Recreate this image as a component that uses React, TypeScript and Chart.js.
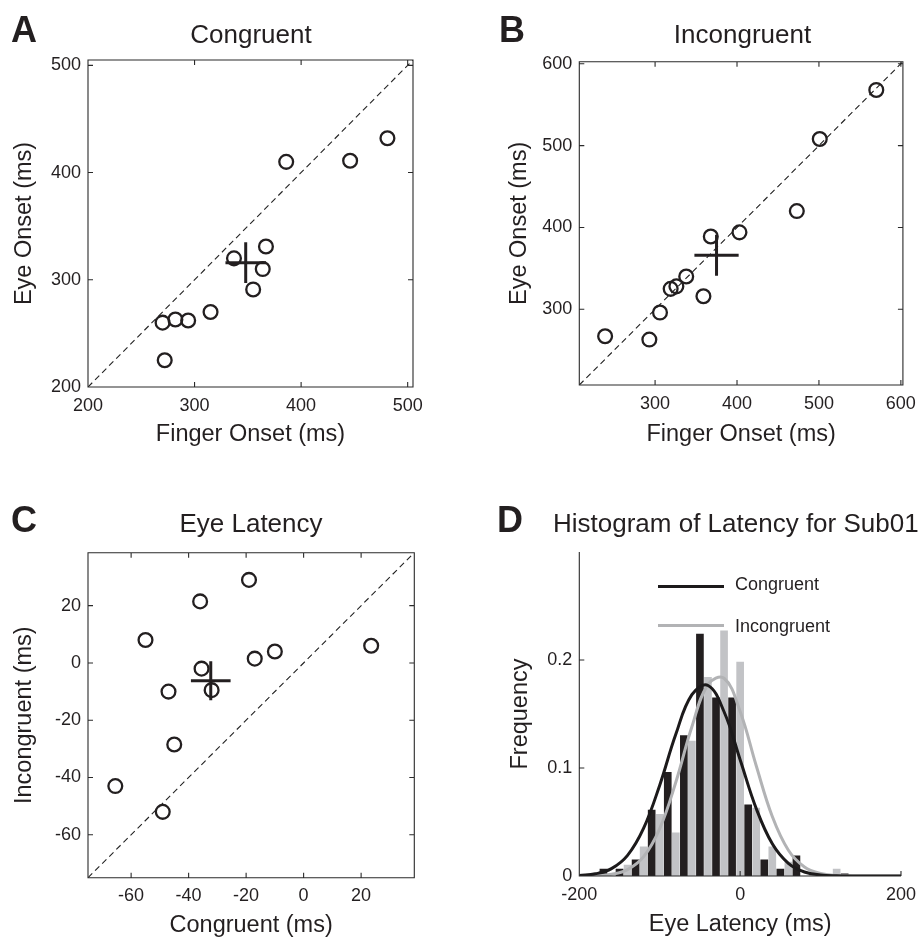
import React, { useEffect, useRef } from 'react';
import { Chart, registerables } from 'chart.js';

Chart.register(...registerables);

const FONT = '"Liberation Sans", Arimo, Arial, Helvetica, sans-serif';
const INK = '#231f20';
const GRAY_BAR = '#c2c3c6';
const GRAY_LINE = '#b2b3b5';

// ---------- Panel A: Congruent ----------
const aFingerOnset = [386, 446, 481, 367, 337, 364, 355, 315, 294, 282, 270, 272];
const aEyeOnset = [410, 411, 432, 331, 320, 310, 291, 270, 262, 263, 260, 225];
const aMean = [348, 316];
const aError = [19, 19];
const aTicks = [200, 300, 400, 500];
const aRange = [200, 505];

// ---------- Panel B: Incongruent ----------
const bFingerOnset = [570, 501, 473, 403, 368, 338, 326, 319, 359, 306, 293, 239];
const bEyeOnset = [568, 508, 420, 394, 389, 340, 328, 325, 316, 296, 263, 267];
const bMean = [375, 366];
const bError = [27, 25];
const bTicks = [300, 400, 500, 600];
const bRange = [207.5, 602.5];

// ---------- Panel C: Eye Latency ----------
const cCongruent = [-19, -36, -55, 23.5, -10, -17, -35.5, -47, -32, -45, -65.5, -49];
const cIncongruent = [29, 21.5, 8, 6, 4, 1.5, -2, -10, -9.5, -28.5, -43, -52];
const cMean = [-32.3, -6.2];
const cError = [6.9, 6.8];
const cTicks = [-60, -40, -20, 0, 20];
const cRange = [-75, 38.5];

// ---------- Panel D: Histogram of Latency for Sub01 ----------
const congruentBins = [-190, -170, -150, -130, -110, -90, -70, -50, -30, -10, 10, 30, 50, 70, 90, 110, 130];
const congruentFrequency = [0.0015, 0.0065, 0.0065, 0.015, 0.061, 0.096, 0.13, 0.224, 0.165, 0.165, 0.066, 0.015, 0.0065, 0.0186, 0, 0, 0.002];
const incongruentBins = [-180, -160, -140, -120, -100, -80, -60, -40, -20, 0, 20, 40, 60, 80, 100, 120, 140];
const incongruentFrequency = [0, 0, 0.01, 0.027, 0.057, 0.04, 0.125, 0.184, 0.227, 0.198, 0.063, 0.027, 0.013, 0, 0, 0.0065, 0];
const fitLatency = [-200, -180, -160, -140, -120, -100, -80, -60, -40, -20, 0, 20, 40, 60, 80, 100, 120, 140, 160, 180, 200];
const congruentFit = [0.0005, 0.002, 0.0068, 0.0191, 0.0443, 0.0841, 0.1312, 0.1679, 0.1764, 0.1521, 0.1077, 0.0625, 0.0298, 0.0117, 0.0037, 0.001, 0.0002, 0, 0, 0, 0];
const incongruentFit = [0.0001, 0.0003, 0.0016, 0.0059, 0.0179, 0.0439, 0.0868, 0.1382, 0.1772, 0.1831, 0.1523, 0.1021, 0.0551, 0.0239, 0.0084, 0.0024, 0.0005, 0.0001, 0, 0, 0];
const dXTicks = [-200, 0, 200];
const dYTicks = [0, 0.1, 0.2];
const dXRange = [-200, 200];
const dYRange = [0, 0.3];

type Rect = { left: number; top: number; width: number; height: number };
type Area = { l: number; t: number; r: number; b: number };

function frame(c: Rect, a: Area) {
  return {
    padding: { left: 0, top: a.t - c.top, right: c.left + c.width - a.r, bottom: 0 },
    yWidth: a.l - c.left,
    xHeight: c.top + c.height - a.b,
  };
}

function makeAxisPlugin(box: boolean) {
  return {
    id: 'matlabAxes',
    afterDatasetsDraw(chart: any) {
      const { ctx, chartArea } = chart;
      const { left, top, right, bottom } = chartArea;
      const xs = chart.scales.x;
      const ys = chart.scales.y;
      const L = 5;
      ctx.save();
      ctx.strokeStyle = '#2a2a2a';
      ctx.lineWidth = 1.1;
      ctx.beginPath();
      if (box) {
        ctx.rect(left, top, right - left, bottom - top);
      } else {
        ctx.moveTo(left, top);
        ctx.lineTo(left, bottom);
        ctx.lineTo(right, bottom);
      }
      xs.ticks.forEach((t: any) => {
        const px = xs.getPixelForValue(t.value);
        ctx.moveTo(px, bottom);
        ctx.lineTo(px, bottom - L);
        if (box) {
          ctx.moveTo(px, top);
          ctx.lineTo(px, top + L);
        }
      });
      ys.ticks.forEach((t: any) => {
        const py = ys.getPixelForValue(t.value);
        ctx.moveTo(left, py);
        ctx.lineTo(left + L, py);
        if (box) {
          ctx.moveTo(right, py);
          ctx.lineTo(right - L, py);
        }
      });
      ctx.stroke();
      ctx.restore();
    },
  };
}

function axis(kind: 'x' | 'y', o: { min: number; max: number; ticks: number[]; title: string; size: number; titlePad: number }) {
  return {
    type: 'linear',
    min: o.min,
    max: o.max,
    offset: false,
    afterBuildTicks: (s: any) => {
      s.ticks = o.ticks.map((v) => ({ value: v }));
    },
    afterFit: (s: any) => {
      if (kind === 'x') s.height = o.size;
      else s.width = o.size;
    },
    grid: { display: false, drawTicks: false },
    border: { display: false },
    ticks: {
      color: INK,
      font: { family: FONT, size: 18 },
      padding: kind === 'x' ? 8 : 7,
      maxRotation: 0,
      minRotation: 0,
      autoSkip: false,
      callback: (v: any) => String(v),
    },
    title: {
      display: true,
      text: o.title,
      color: INK,
      font: { family: FONT, size: 23.5, lineHeight: 1 },
      padding: kind === 'x' ? { top: 0, bottom: o.titlePad } : { top: o.titlePad, bottom: 0 },
    },
  };
}

type ScatterSpec = {
  canvas: Rect;
  area: Area;
  xs: number[];
  ys: number[];
  mean: number[];
  err: number[];
  ticks: number[];
  range: number[];
  xTitle: string;
  yTitle: string;
  xTitlePad: number;
  yTitlePad: number;
};

function scatterConfig(s: ScatterSpec) {
  const f = frame(s.canvas, s.area);
  const pts = s.xs.map((x, i) => ({ x, y: s.ys[i] }));
  const [mx, my] = s.mean;
  const [ex, ey] = s.err;
  const crossStyle = { showLine: true, borderColor: INK, borderWidth: 3, pointRadius: 0, borderCapStyle: 'butt' };
  return {
    type: 'scatter',
    data: {
      datasets: [
        {
          data: pts,
          pointStyle: 'circle',
          pointRadius: 6.9,
          borderWidth: 2.3,
          pointBorderWidth: 2.3,
          borderColor: INK,
          pointBorderColor: INK,
          backgroundColor: 'rgba(0,0,0,0)',
          pointBackgroundColor: 'rgba(0,0,0,0)',
          showLine: false,
        },
        { data: [{ x: mx - ex, y: my }, { x: mx + ex, y: my }], ...crossStyle },
        { data: [{ x: mx, y: my - ey }, { x: mx, y: my + ey }], ...crossStyle },
        {
          data: [{ x: s.range[0], y: s.range[0] }, { x: s.range[1], y: s.range[1] }],
          showLine: true,
          borderColor: '#222',
          borderWidth: 1.1,
          borderDash: [6, 4],
          pointRadius: 0,
        },
      ],
    },
    options: {
      animation: false,
      responsive: false,
      devicePixelRatio: 1,
      events: [],
      layout: { padding: f.padding },
      plugins: { legend: { display: false }, tooltip: { enabled: false } },
      scales: {
        x: axis('x', { min: s.range[0], max: s.range[1], ticks: s.ticks, title: s.xTitle, size: f.xHeight, titlePad: s.xTitlePad }),
        y: axis('y', { min: s.range[0], max: s.range[1], ticks: s.ticks, title: s.yTitle, size: f.yWidth, titlePad: s.yTitlePad }),
      },
    },
    plugins: [makeAxisPlugin(true)],
  };
}

const dCanvas: Rect = { left: 460, top: 530, width: 464, height: 409 };
const dArea: Area = { l: 579.3, t: 552, r: 905.7, b: 876 };

function histogramConfig() {
  const f = frame(dCanvas, dArea);
  return {
    type: 'bar',
    data: {
      datasets: [
        {
          type: 'line',
          data: fitLatency.map((x, i) => ({ x, y: congruentFit[i] })),
          borderColor: '#1c1a1b',
          borderWidth: 3,
          pointRadius: 0,
          tension: 0.4,
          order: 0,
        },
        {
          type: 'line',
          data: fitLatency.map((x, i) => ({ x, y: incongruentFit[i] })),
          borderColor: GRAY_LINE,
          borderWidth: 3,
          pointRadius: 0,
          tension: 0.4,
          order: 1,
        },
        {
          type: 'bar',
          data: congruentBins.map((x, i) => ({ x, y: congruentFrequency[i] })),
          backgroundColor: INK,
          borderWidth: 0,
          barThickness: 7,
          grouped: false,
          order: 2,
        },
        {
          type: 'bar',
          data: incongruentBins.map((x, i) => ({ x, y: incongruentFrequency[i] })),
          backgroundColor: GRAY_BAR,
          borderWidth: 0,
          barThickness: 7,
          grouped: false,
          order: 3,
        },
      ],
    },
    options: {
      animation: false,
      responsive: false,
      devicePixelRatio: 1,
      events: [],
      layout: { padding: f.padding },
      plugins: { legend: { display: false }, tooltip: { enabled: false } },
      scales: {
        x: axis('x', { min: dXRange[0], max: dXRange[1], ticks: dXTicks, title: 'Eye Latency (ms)', size: f.xHeight, titlePad: 2.25 }),
        y: axis('y', { min: dYRange[0], max: dYRange[1], ticks: dYTicks, title: 'Frequency', size: f.yWidth, titlePad: 49.25 }),
      },
    },
    plugins: [makeAxisPlugin(false)],
  };
}

function ChartCanvas({ rect, make }: { rect: Rect; make: () => any }) {
  const ref = useRef<HTMLCanvasElement>(null);
  useEffect(() => {
    const chart = new Chart(ref.current as HTMLCanvasElement, make());
    return () => chart.destroy();
  }, []);
  return (
    <canvas
      ref={ref}
      width={rect.width}
      height={rect.height}
      style={{ position: 'absolute', left: rect.left, top: rect.top, width: rect.width, height: rect.height }}
    />
  );
}

function Text({ left, top, size, bold, children, center, width }: any) {
  return (
    <div
      style={{
        position: 'absolute',
        left: center !== undefined ? center - 200 : left,
        width: center !== undefined ? 400 : width,
        top,
        fontFamily: FONT,
        fontSize: size,
        lineHeight: size + 'px',
        fontWeight: bold ? 700 : 400,
        color: INK,
        whiteSpace: 'nowrap',
        textAlign: center !== undefined ? 'center' : 'left',
      }}
    >
      {children}
    </div>
  );
}

const specA: ScatterSpec = {
  canvas: { left: 0, top: 40, width: 460, height: 410 },
  area: { l: 88, t: 60, r: 413, b: 387 },
  xs: aFingerOnset, ys: aEyeOnset, mean: aMean, err: aError, ticks: aTicks, range: aRange,
  xTitle: 'Finger Onset (ms)', yTitle: 'Eye Onset (ms)', xTitlePad: 3.25, yTitlePad: 13,
};
const specB: ScatterSpec = {
  canvas: { left: 460, top: 40, width: 464, height: 410 },
  area: { l: 579.3, t: 61.7, r: 905.7, b: 385 },
  xs: bFingerOnset, ys: bEyeOnset, mean: bMean, err: bError, ticks: bTicks, range: bRange,
  xTitle: 'Finger Onset (ms)', yTitle: 'Eye Onset (ms)', xTitlePad: 3.25, yTitlePad: 48.25,
};
const specC: ScatterSpec = {
  canvas: { left: 0, top: 530, width: 460, height: 409 },
  area: { l: 88, t: 552.7, r: 414.3, b: 877.7 },
  xs: cCongruent, ys: cIncongruent, mean: cMean, err: cError, ticks: cTicks, range: cRange,
  xTitle: 'Congruent (ms)', yTitle: 'Incongruent (ms)', xTitlePad: 1.25, yTitlePad: 13,
};

export default function App() {
  return (
    <div style={{ position: 'absolute', left: 0, top: 0, width: 924, height: 939, overflow: 'hidden', background: '#fff' }}>
      <ChartCanvas rect={specA.canvas} make={() => scatterConfig(specA)} />
      <ChartCanvas rect={specB.canvas} make={() => scatterConfig(specB)} />
      <ChartCanvas rect={specC.canvas} make={() => scatterConfig(specC)} />
      <ChartCanvas rect={dCanvas} make={histogramConfig} />

      <Text left={11} top={11.5} size={36} bold>A</Text>
      <Text left={499} top={11.5} size={36} bold>B</Text>
      <Text left={11} top={501.5} size={36} bold>C</Text>
      <Text left={497} top={501.5} size={36} bold>D</Text>

      <Text center={251} top={20.7} size={26}>Congruent</Text>
      <Text center={742.5} top={20.7} size={26}>Incongruent</Text>
      <Text center={251} top={510} size={26}>Eye Latency</Text>
      <Text left={553} top={510} size={26}>Histogram of Latency for Sub01</Text>

      <div style={{ position: 'absolute', left: 658, top: 585.2, width: 66, height: 3, background: '#1c1a1b' }} />
      <div style={{ position: 'absolute', left: 658, top: 623.5, width: 66, height: 3, background: GRAY_LINE }} />
      <Text left={735} top={575.2} size={18}>Congruent</Text>
      <Text left={735} top={616.7} size={18}>Incongruent</Text>
    </div>
  );
}
